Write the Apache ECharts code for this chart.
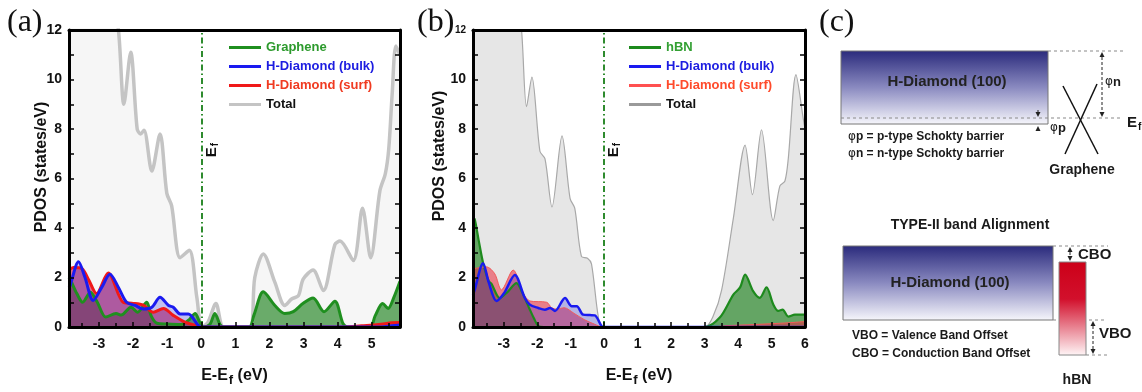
<!DOCTYPE html>
<html>
<head>
<meta charset="utf-8">
<script src="https://cdn.jsdelivr.net/npm/echarts@6/dist/echarts.min.js"></script>
<style>
html,body{margin:0;padding:0;background:#fff}
#chart{width:1142px;height:392px}
</style>
</head>
<body>
<div id="chart"></div>
<script>
// panel (a): graphene / H-diamond, [E-Ef, PDOS]
var totalA = [[-3.88,15],[-3.0,14],[-2.6,13],[-2.43,12],[-2.27,9.0],[-2.07,11.1],[-1.88,8.0],[-1.78,7.8],[-1.68,7.95],[-1.45,6.3],[-1.21,7.8],[-1.01,5.4],[-0.87,4.9],[-0.62,2.8],[-0.35,3.1],[-0.13,1.2],[0.02,0],[0.2,0.2],[0.43,0.95],[0.65,0],[1.0,0],[1.43,0],[1.57,2.0],[1.82,2.95],[2.16,1.8],[2.45,0.87],[2.65,1.13],[2.85,1.27],[2.99,1.93],[3.28,2.3],[3.58,1.47],[3.92,3.33],[4.07,3.47],[4.46,2.69],[4.73,4.8],[4.97,2.8],[5.24,5.5],[5.4,6.2],[5.5,7.2],[5.6,9.4],[5.71,11.35],[5.83,11.0]];
var grapheneA = [[-3.88,2.0],[-3.82,1.85],[-3.65,1.35],[-3.48,1.0],[-3.25,1.4],[-3.05,1.0],[-2.8,0.4],[-2.5,0.55],[-2.35,0.48],[-2.06,0.8],[-1.87,0.6],[-1.6,1.0],[-1.47,0.45],[-1.3,0.15],[-1.0,0.12],[-0.6,0.1],[-0.35,0.3],[-0.18,0.55],[-0.05,0.2],[0.05,0],[0.25,0.1],[0.4,0.55],[0.55,0.1],[0.65,0],[1.4,0],[1.55,0.5],[1.82,1.42],[2.16,0.87],[2.45,0.55],[2.7,0.62],[2.99,0.96],[3.28,1.17],[3.6,0.62],[3.92,1.04],[4.16,0.13],[4.3,0],[4.95,0],[5.1,0.45],[5.32,0.95],[5.48,0.75],[5.65,1.2],[5.83,1.85]];
var surfA = [[-3.88,2.3],[-3.75,2.4],[-3.5,2.35],[-3.3,1.9],[-3.07,1.35],[-2.73,2.18],[-2.29,1.0],[-2.04,0.96],[-1.7,0.88],[-1.41,0.6],[-1.11,0.75],[-0.82,0.47],[-0.48,0.2],[-0.14,0.06],[0.02,0],[4.2,0],[4.7,0.05],[5.2,0.1],[5.6,0.17],[5.83,0.18]];
var bulkA = [[-3.88,1.6],[-3.85,1.67],[-3.6,2.64],[-3.41,2.0],[-3.17,1.07],[-2.92,1.6],[-2.68,2.13],[-2.43,1.6],[-2.19,1.0],[-1.94,0.87],[-1.7,0.73],[-1.45,0.8],[-1.21,1.2],[-0.96,0.87],[-0.82,0.8],[-0.62,0.53],[-0.38,0.53],[-0.09,0.07],[0.02,0],[5.3,0],[5.6,0.05],[5.83,0.08]];

// panel (b): hBN / H-diamond
var totalB = [[-3.92,15],[-3.0,14],[-2.6,13],[-2.47,12],[-2.32,8.9],[-2.16,10.1],[-1.92,7.1],[-1.77,6.8],[-1.56,4.85],[-1.26,7.72],[-1.02,5.2],[-0.88,4.8],[-0.68,2.85],[-0.5,2.78],[-0.38,2.55],[-0.18,0.45],[-0.05,0],[3.0,0],[3.26,0.45],[3.51,1.5],[3.86,4.4],[4.21,7.35],[4.43,5.35],[4.7,7.97],[5.05,4.3],[5.25,5.7],[5.4,5.9],[5.5,6.8],[5.73,10.2],[5.95,8.4],[6,8.0]];
var hbnB = [[-3.92,4.4],[-3.87,4.36],[-3.75,3.5],[-3.62,2.6],[-3.45,1.85],[-3.37,1.75],[-3.12,1.17],[-2.9,1.4],[-2.62,1.77],[-2.45,1.4],[-2.22,0.7],[-2.1,0.35],[-1.97,0.04],[-1.8,0],[3.0,0],[3.46,0.39],[3.86,1.31],[4.06,1.6],[4.21,2.12],[4.45,1.45],[4.65,1.18],[4.85,1.6],[5.05,0.92],[5.2,0.65],[5.33,0.7],[5.5,0.42],[5.7,0.5],[6,0.5]];
var surfB = [[-3.92,2.35],[-3.52,2.43],[-3.27,2.15],[-3.07,1.5],[-2.72,2.3],[-2.42,1.37],[-2.22,1.05],[-1.72,1.0],[-1.57,0.78],[-1.42,0.72],[-1.2,0.78],[-0.9,0.55],[-0.6,0.3],[-0.3,0.12],[-0.05,0],[3.2,0],[3.6,0.05],[4.5,0.1],[5.5,0.17],[6,0.22]];
var bulkB = [[-3.92,1.3],[-3.87,1.5],[-3.62,2.58],[-3.45,1.8],[-3.22,1.05],[-3.0,1.35],[-2.67,2.1],[-2.37,1.17],[-2.22,0.9],[-1.97,0.77],[-1.77,0.7],[-1.62,0.77],[-1.47,0.65],[-1.17,1.17],[-0.97,0.84],[-0.82,0.84],[-0.63,0.5],[-0.43,0.48],[-0.28,0.47],[-0.08,0.04],[0,0],[6,0]];

var xRangeA = [-3.88, 5.83];
var xRangeB = [-3.92, 6];
var yRange = [0, 12];

var FONT = 'Liberation Sans';
var myChart = echarts.init(document.getElementById('chart'));

function bottomAxis(grid, range, showMax) {
    return {
        type: 'value', gridIndex: grid, min: range[0], max: range[1], splitNumber: 10, z: 10,
        name: 'E-E{sub|f} (eV)', nameLocation: 'middle', nameGap: 38,
        nameTextStyle: {fontFamily: FONT, fontWeight: 'bold', fontSize: 16, color: '#111',
            rich: {sub: {fontFamily: FONT, fontWeight: 'bold', fontSize: 13, color: '#111', padding: [9, 0, 0, 1]}}},
        axisLine: {onZero: false, lineStyle: {color: '#000', width: 3}},
        axisTick: {inside: true, length: 5, lineStyle: {color: '#000', width: 1.5}},
        minorTick: {show: true, splitNumber: 2, length: 4, lineStyle: {color: '#000', width: 1.5}},
        axisLabel: {fontFamily: FONT, fontWeight: 'bold', fontSize: 14, color: '#111', margin: 10,
            showMinLabel: false, showMaxLabel: showMax},
        splitLine: {show: false}
    };
}
function topAxis(grid, range) {
    return {
        type: 'value', gridIndex: grid, min: range[0], max: range[1], position: 'top', z: 10,
        axisLine: {onZero: false, lineStyle: {color: '#000', width: 3}},
        axisTick: {show: false}, axisLabel: {show: false}, splitLine: {show: false}
    };
}
function leftAxis(grid, small12) {
    return {
        type: 'value', gridIndex: grid, min: yRange[0], max: yRange[1], interval: 2, z: 10,
        axisLine: {onZero: false, lineStyle: {color: '#000', width: 3}},
        axisTick: {inside: true, length: 5, lineStyle: {color: '#000', width: 1.5}},
        minorTick: {show: true, splitNumber: 2, length: 5, lineStyle: {color: '#000', width: 1.5}},
        axisLabel: {fontFamily: FONT, fontWeight: 'bold', fontSize: 14, color: '#111', margin: 7,
            formatter: function (v) { return (small12 && v === 12) ? '{s|12}' : v; },
            rich: {s: {fontFamily: FONT, fontWeight: 'bold', fontSize: 10, color: '#111'}}},
        splitLine: {show: false}
    };
}
function rightAxis(grid) {
    return {
        type: 'value', gridIndex: grid, min: yRange[0], max: yRange[1], interval: 2, position: 'right', z: 10,
        axisLine: {onZero: false, lineStyle: {color: '#000', width: 3}},
        axisTick: {inside: true, length: 5, lineStyle: {color: '#000', width: 1.5}},
        minorTick: {show: true, splitNumber: 2, length: 5, lineStyle: {color: '#000', width: 1.5}},
        axisLabel: {show: false}, splitLine: {show: false}
    };
}
function curve(name, data, axis, color, width, fill) {
    return {
        name: name, type: 'line', xAxisIndex: axis, yAxisIndex: axis, data: data,
        smooth: 0.3, symbol: 'none', showSymbol: false, color: color,
        lineStyle: {color: color, width: width},
        areaStyle: {color: fill, opacity: 1},
        emphasis: {disabled: true}
    };
}
var efLine = {
    symbol: 'none', silent: true, data: [{xAxis: 0}], label: {show: false},
    lineStyle: {color: '#2e8b2e', width: 2, type: [6, 3, 1.5, 3]}
};
function legendFor(left, items) {
    return {
        left: left, top: 41, padding: 0, orient: 'vertical', icon: 'rect', itemWidth: 32, itemHeight: 3, itemGap: 6,
        textStyle: {fontFamily: FONT, fontWeight: 'bold', fontSize: 13},
        data: items
    };
}
function txt(x, y, s, size, align, extra) {
    var o = {type: 'text', x: x, y: y, silent: true,
        style: {text: s, fontFamily: FONT, fontWeight: 'bold', fontSize: size, fill: '#1a1a1a',
            align: align || 'left', verticalAlign: 'middle'}};
    if (extra) { for (var k in extra) o.style[k] = extra[k]; }
    return o;
}
function vtxt(x, y, s, size, rich) {
    var o = txt(x, y, s, size, 'center', {fill: '#111'});
    o.rotation = Math.PI / 2;
    if (rich) o.style.rich = rich;
    return o;
}
function dash(x1, y1, x2, y2) {
    return {type: 'line', silent: true, shape: {x1: x1, y1: y1, x2: x2, y2: y2},
        style: {stroke: '#8a8a8a', lineWidth: 1, lineDash: [3, 3]}};
}
function vArrow(x, y1, y2) {
    // dashed double-headed vertical arrow
    return [
        {type: 'line', silent: true, shape: {x1: x, y1: y1 + 5, x2: x, y2: y2 - 5},
            style: {stroke: '#222', lineWidth: 1, lineDash: [3, 2]}},
        {type: 'polygon', silent: true, shape: {points: [[x - 2.5, y1 + 5], [x + 2.5, y1 + 5], [x, y1]]}, style: {fill: '#222'}},
        {type: 'polygon', silent: true, shape: {points: [[x - 2.5, y2 - 5], [x + 2.5, y2 - 5], [x, y2]]}, style: {fill: '#222'}}
    ];
}
function navy() {
    return new echarts.graphic.LinearGradient(0, 0, 0, 1, [
        {offset: 0, color: '#2a2a7c'}, {offset: 0.5, color: '#8a8ac0'}, {offset: 1, color: '#f7f7fc'}]);
}
var phiRich = {f: {fontFamily: 'DejaVu Sans', fontSize: 12, fill: '#1a1a1a'}};
var efRich = {s: {fontFamily: FONT, fontWeight: 'bold', fontSize: 10, fill: '#111', padding: [7, 0, 0, 1]}};
var serif = {fontFamily: 'Liberation Serif', fontWeight: 'normal', fill: '#111'};

var graphics = [
    txt(7, 23, '(a)', 32, 'left', serif),
    txt(417, 23, '(b)', 32, 'left', serif),
    txt(819, 23, '(c)', 32, 'left', serif),
    vtxt(42, 167, 'PDOS (states/eV)', 16),
    vtxt(440, 156, 'PDOS (states/eV)', 16),
    vtxt(212, 150, 'E{s|f}', 15, efRich),
    vtxt(614, 150, 'E{s|f}', 15, efRich),

    // (c) top: Schottky barrier with graphene
    {type: 'rect', silent: true, shape: {x: 841, y: 51, width: 207, height: 73}, style: {fill: navy(), stroke: '#777', lineWidth: 1}},
    txt(947, 82, 'H-Diamond (100)', 15, 'center', {fill: '#222'}),
    dash(1048, 51, 1126, 51),
    dash(841, 118, 1121, 118),
    {type: 'line', silent: true, shape: {x1: 1063, y1: 86, x2: 1098, y2: 154}, style: {stroke: '#111', lineWidth: 1.5}},
    {type: 'line', silent: true, shape: {x1: 1097, y1: 84, x2: 1065, y2: 154}, style: {stroke: '#111', lineWidth: 1.5}},
    txt(1105, 82, '{f|φ}n', 13, 'left', {rich: phiRich}),
    txt(1050, 128, '{f|φ}p', 13, 'left', {rich: phiRich}),
    txt(1127, 123, 'E{s|f}', 15, 'left', {rich: {s: {fontFamily: FONT, fontWeight: 'bold', fontSize: 10, fill: '#111', padding: [8, 0, 0, 1]}}}),
    {type: 'line', silent: true, shape: {x1: 1038, y1: 110, x2: 1038, y2: 113}, style: {stroke: '#222', lineWidth: 1}},
    {type: 'polygon', silent: true, shape: {points: [[1035.5, 112], [1040.5, 112], [1038, 117]]}, style: {fill: '#222'}},
    {type: 'polygon', silent: true, shape: {points: [[1035.5, 131], [1040.5, 131], [1038, 126]]}, style: {fill: '#222'}},
    txt(848, 137, '{f|φ}p = p-type Schokty barrier', 12, 'left', {rich: phiRich}),
    txt(848, 154, '{f|φ}n = n-type Schokty barrier', 12, 'left', {rich: phiRich}),
    txt(1082, 170, 'Graphene', 14, 'center'),

    // (c) bottom: type-II alignment with hBN
    txt(970, 225, 'TYPE-II band Alignment', 14, 'center'),
    {type: 'rect', silent: true, shape: {x: 843, y: 246, width: 210, height: 74}, style: {fill: navy(), stroke: '#777', lineWidth: 1}},
    txt(950, 283, 'H-Diamond (100)', 15, 'center', {fill: '#222'}),
    dash(1053, 246, 1108, 246),
    dash(1053, 320, 1107, 320),
    dash(1086, 355, 1108, 355),
    {type: 'rect', silent: true, shape: {x: 1059, y: 262, width: 27, height: 93},
        style: {fill: new echarts.graphic.LinearGradient(0, 0, 0, 1, [
            {offset: 0, color: '#cc0018'}, {offset: 0.4, color: '#d2102c'}, {offset: 1, color: '#fff6f7'}]),
            stroke: '#888', lineWidth: 1}},
    txt(1078, 255, 'CBO', 15, 'left'),
    txt(1099, 334, 'VBO', 15, 'left'),
    txt(852, 336, 'VBO = Valence Band Offset', 12, 'left'),
    txt(852, 354, 'CBO = Conduction Band Offset', 12, 'left'),
    txt(1077, 380, 'hBN', 14, 'center')
].concat(vArrow(1102, 52, 117), vArrow(1070, 247, 261), vArrow(1093, 321, 354));

var option = {
    animation: false,
    backgroundColor: '#fff',
    grid: [
        {left: 69, top: 30, width: 331, height: 300},
        {left: 473, top: 30, width: 332, height: 301}
    ],
    xAxis: [bottomAxis(0, xRangeA, false), topAxis(0, xRangeA), bottomAxis(1, xRangeB, true), topAxis(1, xRangeB)],
    yAxis: [leftAxis(0, false), rightAxis(0), leftAxis(1, true), rightAxis(1)],
    legend: [
        legendFor(229, [
            {name: 'Graphene', textStyle: {color: '#2c9a2c'}},
            {name: 'H-Diamond (bulk)', textStyle: {color: '#1c1ce0'}},
            {name: 'H-Diamond (surf)', textStyle: {color: '#f03a20'}},
            {name: 'Total', textStyle: {color: '#111'}, itemStyle: {color: '#c4c4c4'}}
        ]),
        legendFor(629, [
            {name: 'hBN', textStyle: {color: '#33a033'}},
            {name: 'H-Diamond (bulk)', textStyle: {color: '#1c1ce0'}},
            {name: 'H-Diamond (surf)', textStyle: {color: '#ff4a2a'}, itemStyle: {color: '#ff5050'}},
            {name: 'Total', textStyle: {color: '#111'}, itemStyle: {color: '#9a9a9a'}}
        ])
    ],
    graphic: graphics,
    series: [
        echarts.util.extend(curve('Total', totalA, 0, '#c4c4c4', 3.5, '#f6f6f6'), {markLine: efLine}),
        curve('Graphene', grapheneA, 0, '#1f8f1f', 3, 'rgba(20,125,20,0.62)'),
        curve('H-Diamond (surf)', surfA, 0, '#f01818', 3, 'rgba(205,25,75,0.62)'),
        curve('H-Diamond (bulk)', bulkA, 0, '#1a1af0', 3, 'rgba(40,40,220,0.26)'),

        echarts.util.extend(curve('Total', totalB, 2, '#a8a8a8', 1.2, '#e6e6e6'), {markLine: efLine}),
        curve('hBN', hbnB, 2, '#1d8a1d', 2.2, 'rgba(20,125,20,0.62)'),
        curve('H-Diamond (surf)', surfB, 2, '#f05a5a', 1, 'rgba(235,40,60,0.55)'),
        curve('H-Diamond (bulk)', bulkB, 2, '#1a1af0', 2.5, 'rgba(40,40,220,0.26)')
    ]
};

myChart.setOption(option);
</script>
</body>
</html>
